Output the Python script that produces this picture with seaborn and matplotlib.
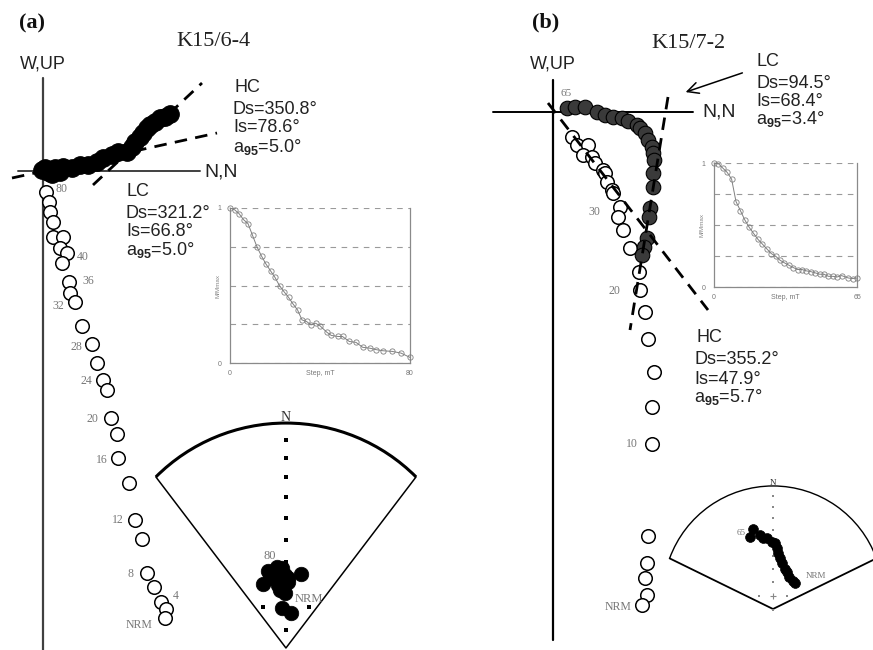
import numpy as np
import matplotlib
matplotlib.use("Agg")
import matplotlib.pyplot as plt
from matplotlib.patches import Arc
import seaborn as sns

sns.set_style("white")
plt.rcParams["font.family"] = ["Liberation Sans", "DejaVu Sans"]
plt.rcParams["mathtext.fontset"] = "custom"
plt.rcParams["mathtext.rm"] = "Liberation Sans"
plt.rcParams["mathtext.bf"] = "Liberation Sans:bold"
plt.rcParams["mathtext.it"] = "Liberation Sans:italic"

# ---------------- Sample K15/6-4 ----------------
# orthogonal projection, arbitrary units (horizontal plane: filled, vertical plane: open)
a_hor_n = [-0.1, 0.2, 0.5, 0.9, 1.2, 1.7, 2.0, 2.9, 3.7, 4.5, 5.4, 6.0, 6.9, 7.5, 8.4,
           8.9, 9.2, 9.7, 10.0, 10.4, 10.7, 11.2, 11.7, 12.2, 12.7]
a_hor_e = [0.1, 0.3, -0.1, -0.3, 0.3, -0.1, 0.4, 0.3, 0.6, 0.6, 0.9, 1.3, 1.6, 1.9, 1.9,
           2.4, 2.9, 3.4, 3.8, 4.3, 4.6, 4.9, 5.3, 5.4, 5.7]
a_ver_n = [0.3, 0.6, 0.7, 1.0, 1.0, 2.0, 1.7, 2.4, 1.9, 2.6, 2.7, 3.2, 3.9, 4.9, 5.4,
           6.0, 6.4, 6.8, 7.4, 7.5, 8.6, 9.2, 9.9, 10.4, 11.1, 11.8, 12.3, 12.2]
a_ver_up = [-2.1, -3.1, -4.1, -5.1, -6.6, -6.6, -7.7, -8.2, -9.2, -11.1, -12.2, -13.1,
            -15.5, -17.3, -19.2, -20.9, -21.9, -24.7, -26.3, -28.7, -31.2, -34.9, -36.8,
            -40.2, -41.6, -43.1, -43.8, -44.7]
a_step_idx = [0, 7, 9, 11, 13, 15, 17, 19, 21, 23, 25, 27]
a_step_txt = ["80", "40", "36", "32", "28", "24", "20", "16", "12", "8", "4", "NRM"]
a_fit_hc_n, a_fit_hc_v = [5.0, 15.9], [-1.4, 8.8]
a_fit_lc_n, a_fit_lc_v = [-3.1, 17.4], [-0.7, 3.8]
a_hc = ["350.8", "78.6", "5.0"]
a_lc = ["321.2", "66.8", "5.0"]
# AF demagnetisation curve
a_steps = [0, 2, 4, 6, 8, 10, 12, 14, 16, 18, 20, 22, 24, 26, 28, 30, 32, 34, 36, 38, 40,
           43, 45, 48, 50, 53, 56, 59, 62, 65, 68, 72, 76, 80]
a_mmax = [1.0, 0.989, 0.964, 0.925, 0.899, 0.824, 0.749, 0.690, 0.638, 0.595, 0.552, 0.499,
          0.460, 0.424, 0.381, 0.343, 0.278, 0.268, 0.246, 0.257, 0.240, 0.199, 0.178,
          0.171, 0.171, 0.139, 0.133, 0.101, 0.096, 0.086, 0.079, 0.075, 0.064, 0.036]
# stereonet directions
a_net_dec = [333, 347, 354, 331, 315, 340, 349, 358, 4, 25, 340, 353, 340, 356, 258, 141, 350, 5]
a_net_inc = [72.2, 72.0, 72.7, 75.4, 75.7, 75.9, 76.6, 75.9, 77.2, 74.0, 79.7, 79.4, 82.1,
             83.8, 88.1, 86.5, 78.0, 79.0]

# ---------------- Sample K15/7-2 ----------------
b_hor_n = [1.4, 2.2, 3.2, 4.4, 5.2, 6.0, 6.9, 7.5, 8.4, 8.7, 9.2, 9.5, 9.9, 10.0, 10.1,
           10.0, 10.0, 9.7, 9.6, 9.4, 9.1, 8.9]
b_hor_e = [0.4, 0.5, 0.5, 0.0, -0.3, -0.5, -0.6, -0.9, -1.3, -1.6, -2.1, -2.8, -3.5, -4.1,
           -4.8, -6.1, -7.5, -9.6, -10.5, -12.6, -13.5, -14.3]
b_ver_n = [1.9, 2.4, 3.5, 3.0, 3.9, 4.2, 5.0, 5.2, 5.4, 5.9, 6.0, 6.7, 6.5, 7.0, 7.7, 8.6,
           8.7, 9.2, 9.5, 10.1, 9.9, 9.9, 9.5, 9.4, 9.2, 9.4, 8.9]
b_ver_up = [-2.5, -3.3, -3.3, -4.3, -4.5, -5.1, -5.8, -6.1, -7.0, -7.8, -8.1, -9.5, -10.5,
            -11.8, -13.6, -16.0, -17.8, -20.0, -22.7, -26.0, -29.5, -33.2, -42.4, -45.1,
            -46.6, -48.3, -49.3]
b_step_idx = [12, 16, 21, 26]
b_step_txt = ["30", "20", "10", "NRM"]
b_fit_lc_n, b_fit_lc_v = [11.5, 7.7], [1.5, -21.8]
b_fit_hc_n, b_fit_hc_v = [-0.5, 15.5], [0.9, -19.8]
b_lc = ["94.5", "68.4", "3.4"]
b_hc = ["355.2", "47.9", "5.7"]
b_steps = [0, 2, 4, 6, 8, 10, 12, 14, 16, 18, 20, 22, 24, 26, 28, 30, 32, 34, 36, 38, 40,
           42, 44, 46, 48, 50, 52, 54, 56, 58, 61, 63, 65]
b_mmax = [1.0, 0.995, 0.959, 0.924, 0.870, 0.689, 0.616, 0.541, 0.481, 0.432, 0.384, 0.346,
          0.308, 0.270, 0.249, 0.216, 0.195, 0.176, 0.157, 0.141, 0.141, 0.130, 0.124,
          0.114, 0.103, 0.103, 0.086, 0.086, 0.081, 0.092, 0.073, 0.068, 0.073]
b_net_dec = [343.6, 338.7, 347.7, 350.4, 354.6, 358.8, 2.4, 5.2, 7.3, 9.7, 14.9, 23.7, 30.6,
             41.4, 52.1, 59.0]
b_net_inc = [36.5, 41.6, 43.1, 45.3, 45.8, 49.4, 50.2, 53.6, 57.8, 61.0, 64.6, 67.8, 69.2,
             71.6, 71.4, 71.0]

W, H = 873, 650
fig = plt.figure(figsize=(W / 100, H / 100), dpi=100)
fig.patch.set_facecolor("white")


def rect(x0, y0, x1, y1):
    return [x0 / W, 1 - y1 / H, (x1 - x0) / W, (y1 - y0) / H]


def ftxt(x, y, s, **kw):
    kw.setdefault("va", "center")
    kw.setdefault("ha", "left")
    fig.text(x / W, 1 - y / H, s, **kw)


SERIF = ["Liberation Serif", "DejaVu Serif"]
TXT = "#222222"


def zijderveld(box, xlim, ylim, hn, he, vn, vu, fits, h_axis, v_axis,
               fill, s_fill, s_open, axis_color, step_idx, step_txt, step_off, dash_lw):
    ax = fig.add_axes(rect(*box))
    ax.set_xlim(*xlim)
    ax.set_ylim(*ylim)
    ax.axis("off")
    ax.plot(h_axis, [0, 0], color=axis_color, lw=1.4, zorder=1)
    ax.plot([0, 0], v_axis, color=axis_color, lw=1.6, zorder=1)
    sns.scatterplot(x=vn, y=vu, ax=ax, s=s_open, color="white", edgecolor="black",
                    linewidth=1.1, zorder=3, legend=False)
    sns.scatterplot(x=hn, y=he, ax=ax, s=s_fill, color=fill, edgecolor="black",
                    linewidth=0.8, zorder=4, legend=False)
    for fx_, fy_ in fits:
        ax.plot(fx_, fy_, color="black", lw=dash_lw, dashes=(4.5, 3), zorder=5)
    for i, t, (dx, dy) in zip(step_idx, step_txt, step_off):
        ha = "left" if dx > 2 else ("right" if dx < -2 else "center")
        ax.annotate(t, (vn[i], vu[i]), xytext=(dx, dy), textcoords="offset pixels",
                    ha=ha, va="center", fontsize=8.5, color="#777777", family=SERIF)
    return ax


def demag_inset(box, steps, mm, xmax):
    ax = fig.add_axes(rect(*box))
    ax.set_facecolor("white")
    sns.lineplot(x=steps, y=mm, ax=ax, color="#808080", lw=0.7, marker="o",
                 markersize=3.8, markerfacecolor="none", markeredgecolor="#808080",
                 markeredgewidth=0.6, clip_on=False, zorder=3)
    ax.set_xlim(0, xmax)
    ax.set_ylim(0, 1)
    ax.set_xticks(np.linspace(0, xmax, 5))
    ax.set_xticklabels(["0", "", "", "", str(xmax)])
    ax.set_yticks([0, 0.25, 0.5, 0.75, 1.0])
    ax.set_yticklabels(["0", "", "", "", "1"])
    ax.tick_params(axis="x", direction="in", length=4, width=0.7, color="#888888",
                   labelsize=5, labelcolor="#777777", pad=5)
    ax.tick_params(axis="y", length=0, labelsize=5, labelcolor="#777777", pad=6)
    ax.yaxis.grid(True, color="#9a9a9a", lw=0.8, dashes=(5, 5))
    ax.xaxis.grid(False)
    for side in ("left", "bottom", "right"):
        ax.spines[side].set_visible(True)
        ax.spines[side].set_color("#8a8a8a")
        ax.spines[side].set_linewidth(0.9)
    ax.spines["top"].set_visible(False)
    ax.set_xlabel("Step, mT", fontsize=5, color="#777777", labelpad=-5)
    ax.set_ylabel("M/Mmax", fontsize=4.5, color="#888888", labelpad=-2)
    return ax


def equal_area(inc):
    return np.sqrt(2) * np.sin(np.radians(90 - np.asarray(inc, float)) / 2)


def stereonet(box, xlim, ylim, half, apex, dec, inc, s, arc_lw, side_lw, tick_color,
              tick_s, n_size, labels):
    ax = fig.add_axes(rect(*box))
    ax.set_xlim(*xlim)
    ax.set_ylim(*ylim)
    ax.axis("off")
    ax.patch.set_alpha(0)
    ax.add_patch(Arc((0, 0), 2, 2, theta1=90 - half, theta2=90 + half, lw=arc_lw,
                     color="black", clip_on=False))
    ex, ey = np.sin(np.radians(half)), np.cos(np.radians(half))
    ax.plot([-ex, 0, ex], [ey, apex, ey], color="black", lw=side_lw, clip_on=False)
    r_ticks = equal_area(np.arange(10, 90, 10))
    r80 = equal_area(80)
    ax.scatter(np.zeros_like(r_ticks), r_ticks, marker="s", s=tick_s, color=tick_color,
               linewidths=0, zorder=2)
    ax.scatter([0, -r80, r80], [-r80, 0, 0], marker="s", s=tick_s, color=tick_color,
               linewidths=0, zorder=2)
    ax.scatter([0], [0], marker="+", s=tick_s * 8, color=tick_color, linewidths=0.8, zorder=2)
    ax.text(0, 1.03, "N", ha="center", va="center", fontsize=n_size, family=SERIF,
            color="#333333")
    r = equal_area(inc)
    d = np.radians(dec)
    x, y = r * np.sin(d), r * np.cos(d)
    sns.scatterplot(x=x, y=y, ax=ax, s=s, color="black", edgecolor="black",
                    linewidth=0.5, zorder=4, legend=False)
    for i, t, (dx, dy), fs in labels:
        ha = "left" if dx > 2 else ("right" if dx < -2 else "center")
        ax.annotate(t, (x[i], y[i]), xytext=(dx, dy), textcoords="offset pixels",
                    ha=ha, va="center", fontsize=fs, color="#777777", family=SERIF)
    return ax


# ---------------- panel (a) ----------------
zijderveld((0, 50, 440, 650), (-4.3, 39.7), (-47.9, 12.1),
           a_hor_n, a_hor_e, a_ver_n, a_ver_up,
           [(a_fit_hc_n, a_fit_hc_v), (a_fit_lc_n, a_fit_lc_v)],
           [-2.5, 15.7], [9.3, -47.9], "black", 160, 95, "#404040",
           a_step_idx, a_step_txt,
           [(10, 3), (10, -4), (13, 1), (-11, -4), (-10, -3), (-11, -1), (-13, -1),
            (-10, -2), (-11, 0), (-14, -1), (12, 6), (-13, -7)], 2.0)
demag_inset((230, 208, 410, 363), a_steps, a_mmax, 80)
stereonet((150, 410, 430, 650), (-0.739, 0.783), (-0.234, 1.071), 45, -0.223,
          a_net_dec, a_net_inc, 110, 2.2, 1.1, "black", 5, 10,
          [(0, "80", (2, 15), 9), (15, "NRM", (4, 14), 9)])

ftxt(19, 23, "(a)", fontsize=16, fontweight="bold", family=SERIF, color="#111111")
ftxt(213, 41, "K15/6-4", ha="center", fontsize=16, family=SERIF, color="#222222")
ftxt(43, 64, "W,UP", ha="center", fontsize=13, color=TXT)
ftxt(204, 172, "N,N", fontsize=14, color=TXT)
ftxt(235, 87, "HC", fontsize=13, color=TXT)
ftxt(233, 110, "Ds=%s°" % a_hc[0], fontsize=13, color=TXT)
ftxt(233, 128, "Is=%s°" % a_hc[1], fontsize=13, color=TXT)
ftxt(233, 147, r"a$_{\mathbf{95}}$=%s°" % a_hc[2], fontsize=13, color=TXT)
ftxt(127, 192, "LC", fontsize=13, color=TXT)
ftxt(126, 213, "Ds=%s°" % a_lc[0], fontsize=13, color=TXT)
ftxt(126, 232, "Is=%s°" % a_lc[1], fontsize=13, color=TXT)
ftxt(126, 250, r"a$_{\mathbf{95}}$=%s°" % a_lc[2], fontsize=13, color=TXT)

# ---------------- panel (b) ----------------
zb = zijderveld((440, 50, 873, 650), (-11.3, 32.0), (-53.8, 6.2),
                b_hor_n, b_hor_e, b_ver_n, b_ver_up,
                [(b_fit_lc_n, b_fit_lc_v), (b_fit_hc_n, b_fit_hc_v)],
                [-6.0, 14.0], [3.2, -52.8], "#3a3a3a", 110, 95, "black",
                b_step_idx, b_step_txt,
                [(-18, 5), (-20, -1), (-14, 0), (-11, -2)], 2.0)
zb.annotate("65", (b_hor_n[0], b_hor_e[0]), xytext=(-1, 15), textcoords="offset pixels",
            ha="center", va="center", fontsize=8, color="#777777", family=SERIF)
demag_inset((714, 163, 857, 287), b_steps, b_mmax, 65)
stereonet((640, 470, 873, 620), (-1.209, 0.909), (-0.218, 1.145), 70, -0.118,
          b_net_dec, b_net_inc, 50, 1.0, 1.3, "#888888", 2.5, 6.5,
          [(0, "65", (-8, -4), 6.5), (15, "NRM", (11, 7), 6.5)])

ftxt(532, 22, "(b)", fontsize=16, fontweight="bold", family=SERIF, color="#111111")
ftxt(688, 43, "K15/7-2", ha="center", fontsize=16, family=SERIF, color="#222222")
ftxt(553, 64, "W,UP", ha="center", fontsize=13, color=TXT)
ftxt(702, 112, "N,N", fontsize=14, color=TXT)
ftxt(757, 61, "LC", fontsize=13, color=TXT)
ftxt(756, 84, "Ds=%s°" % b_lc[0], fontsize=13, color=TXT)
ftxt(756, 101, "Is=%s°" % b_lc[1], fontsize=13, color=TXT)
ftxt(756, 119, r"a$_{\mathbf{95}}$=%s°" % b_lc[2], fontsize=13, color=TXT)
ftxt(696, 337, "HC", fontsize=13, color=TXT)
ftxt(694, 360, "Ds=%s°" % b_hc[0], fontsize=13, color=TXT)
ftxt(694, 379, "Is=%s°" % b_hc[1], fontsize=13, color=TXT)
ftxt(694, 397, r"a$_{\mathbf{95}}$=%s°" % b_hc[2], fontsize=13, color=TXT)

fig.add_artist(matplotlib.patches.FancyArrowPatch(
    (745 / W, 1 - 72 / H), (683 / W, 1 - 93 / H), transform=fig.transFigure,
    arrowstyle="->,head_length=8,head_width=4", lw=1.1, color="black",
    mutation_scale=1))

fig.savefig("out.png", dpi=100, facecolor="white")
